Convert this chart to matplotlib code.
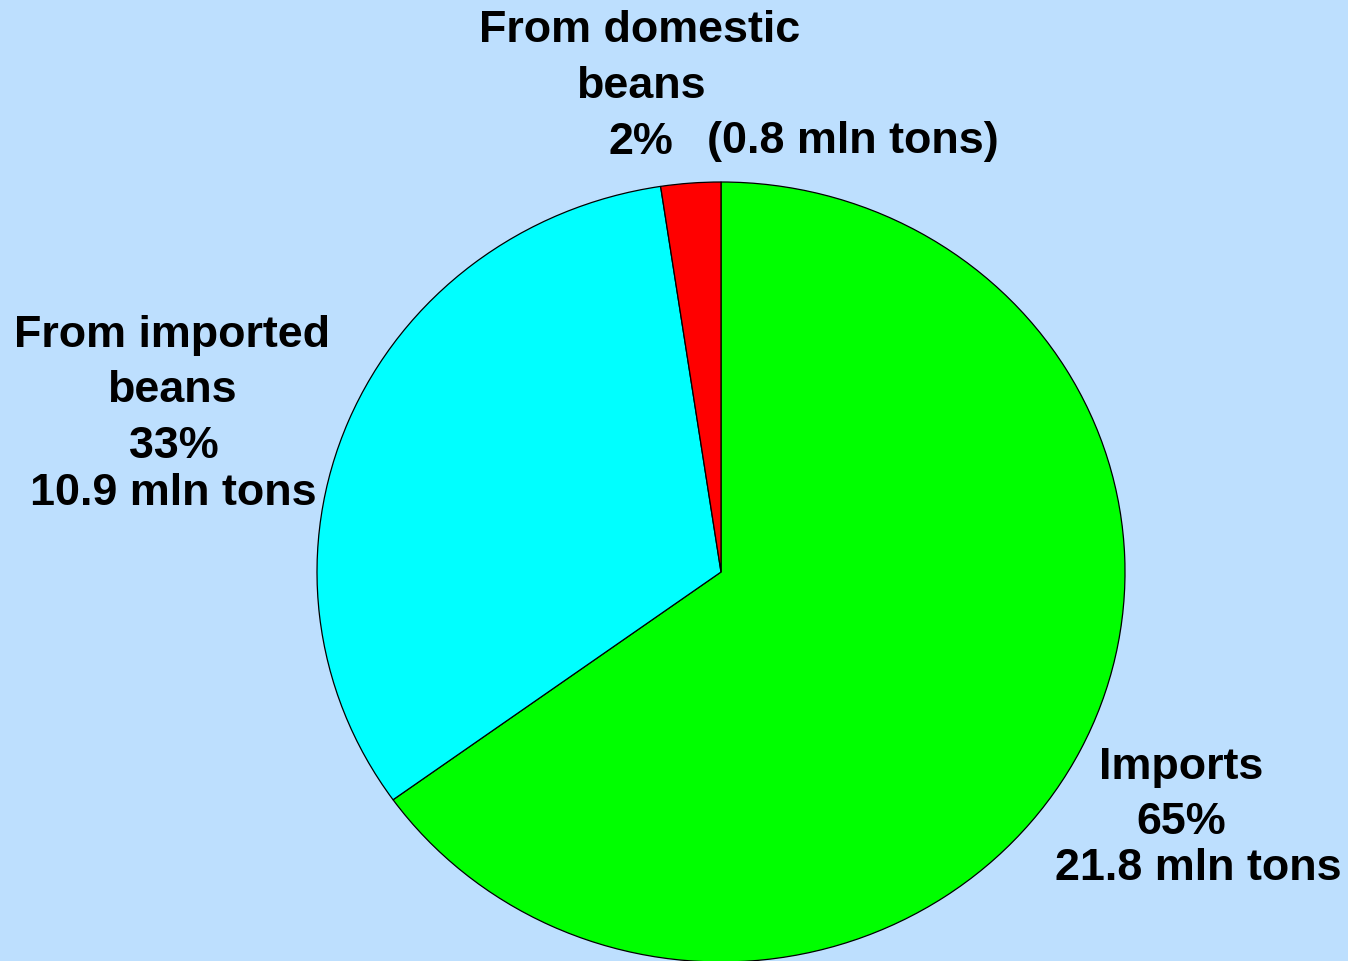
import matplotlib
matplotlib.use("Agg")
import matplotlib.pyplot as plt

categories = ["Imports", "From imported beans", "From domestic beans"]
values = [21.8, 10.9, 0.8]
percent_labels = ["65%", "33%", "2%"]
amount_labels = ["21.8 mln tons", "10.9 mln tons", "(0.8 mln tons)"]
colors = ["#00FF00", "#00FFFF", "#FF0000"]

W, H = 1348, 962
bg = "#BDDFFE"
fig = plt.figure(figsize=(W / 100, H / 100), dpi=100, facecolor=bg)

cx, cy, rx, ry = 721, 573, 404, 390
ax = fig.add_axes([(cx - rx) / W, (H - cy - ry) / H, 2 * rx / W, 2 * ry / H])
ax.set_facecolor("none")
ax.pie(values, colors=colors, startangle=90, counterclock=False,
       wedgeprops=dict(edgecolor="black", linewidth=0.9), radius=1.0)
ax.set_xlim(-1, 1)
ax.set_ylim(-1, 1)
ax.set_aspect("auto")
ax.axis("off")

fs = 32.3
font = dict(family=["Liberation Sans", "DejaVu Sans"], fontweight="bold",
            fontsize=fs, color="black", ha="center", va="center")

def t(x, y, s):
    fig.text(x / W, 1 - y / H, s, **font)

dy = 3
# top label (domestic)
t(640, 28 + dy, "From domestic")
t(641, 83 + dy, "beans")
t(641, 139 + dy, percent_labels[2])
t(853, 139 + dy, amount_labels[2])

# left label (imported beans)
t(172, 332 + dy, "From imported")
t(172, 388 + dy, "beans")
t(174, 443 + dy, percent_labels[1])
t(173, 491 + dy, amount_labels[1])

# right label (imports)
t(1181, 765 + dy, categories[0])
t(1181, 820 + dy, percent_labels[0])
t(1198, 866 + dy, amount_labels[0])

fig.savefig("out.png", dpi=100, facecolor=bg)
